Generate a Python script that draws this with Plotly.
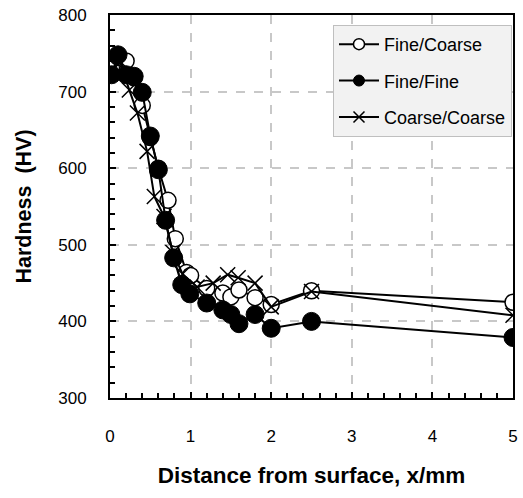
import plotly.graph_objects as go

fc_x = [0.02, 0.1, 0.2, 0.3, 0.4, 0.5, 0.6, 0.72, 0.81, 0.95, 1.0, 1.2, 1.4, 1.5, 1.6, 1.8, 2.0, 2.5, 5.0]
fc_y = [730, 745, 740, 718, 682, 640, 600, 558, 508, 464, 460, 443, 437, 432, 441, 431, 422, 440, 425]

ff_x = [0.02, 0.1, 0.2, 0.3, 0.4, 0.5, 0.6, 0.69, 0.79, 0.89, 0.99, 1.2, 1.4, 1.5, 1.6, 1.8, 2.0, 2.5, 5.0]
ff_y = [722, 748, 722, 720, 699, 642, 598, 532, 483, 448, 436, 424, 415, 409, 397, 409, 391, 400, 379]

cc_x = [0.03, 0.12, 0.24, 0.34, 0.46, 0.55, 0.67, 0.78, 0.9, 1.08, 1.28, 1.46, 1.59, 1.8, 2.0, 2.5, 5.0]
cc_y = [728, 740, 702, 672, 622, 563, 537, 490, 462, 445, 450, 461, 457, 450, 419, 439, 408]

series_names = ["Fine/Coarse", "Fine/Fine", "Coarse/Coarse"]
x_ticks = [0, 1, 2, 3, 4, 5]
y_ticks = [300, 400, 500, 600, 700, 800]

FONT = "Arial"

marker_styles = [
    dict(symbol="circle", color="white", line=dict(color="black", width=1.5)),
    dict(symbol="circle", color="black", line=dict(color="black", width=1)),
    dict(symbol="x-thin", color="black", line=dict(color="black", width=1.5)),
]
plot_sizes = [16, 18, 15]
legend_sizes = [11, 11, 11]

fig = go.Figure()
for i, (xs, ys) in enumerate([(fc_x, fc_y), (ff_x, ff_y), (cc_x, cc_y)]):
    fig.add_trace(go.Scatter(x=xs, y=ys, name=series_names[i], mode="lines+markers",
                             showlegend=False, legendgroup=series_names[i],
                             line=dict(color="black", width=2),
                             marker=dict(size=plot_sizes[i], **marker_styles[i])))
for i in range(3):
    fig.add_trace(go.Scatter(x=[None], y=[None], name=series_names[i], mode="lines+markers",
                             showlegend=True, legendgroup=series_names[i],
                             line=dict(color="black", width=2),
                             marker=dict(size=legend_sizes[i], **marker_styles[i])))

axis_common = dict(showline=True, linecolor="black", linewidth=2, mirror=True,
                   ticks="inside", ticklen=6, tickwidth=2, tickcolor="black",
                   showgrid=True, gridcolor="#c8c8c8", griddash="dash", gridwidth=1.5,
                   zeroline=False, automargin=False, ticklabeloverflow="allow",
                   tickfont=dict(family=FONT, size=17, color="black"))

fig.update_xaxes(range=[0, 5], tickvals=x_ticks, ticklabelstandoff=22,
                 minor=dict(dtick=0.2, ticks="inside", ticklen=5, tickwidth=1.5, tickcolor="black", showgrid=False),
                 title=dict(text="Distance from surface, x/mm",
                            font=dict(family=FONT, size=22.5, color="black", weight="bold"),
                            standoff=22),
                 **axis_common)
fig.update_yaxes(range=[300, 800], tickvals=y_ticks, ticklabelstandoff=18,
                 minor=dict(dtick=20, ticks="inside", ticklen=5, tickwidth=1.5, tickcolor="black", showgrid=False),
                 title=dict(text="Hardness  (HV)",
                            font=dict(family=FONT, size=21.5, color="black", weight="bold"),
                            standoff=21),
                 **axis_common)

fig.update_layout(width=523, height=498, margin=dict(l=110, r=10, t=15, b=100),
                  plot_bgcolor="white", paper_bgcolor="white",
                  legend=dict(x=0.9975, y=0.974, xanchor="right", yanchor="top",
                              bgcolor="#f2f2f2", bordercolor="#bfbfbf", borderwidth=1,
                              font=dict(family=FONT, size=18, color="black"),
                              itemwidth=40,
                              traceorder="grouped", tracegroupgap=10),
                  showlegend=True)

fig.write_html("out.html", config={"displayModeBar": False},
               post_script="document.body.style.margin='0px';")
